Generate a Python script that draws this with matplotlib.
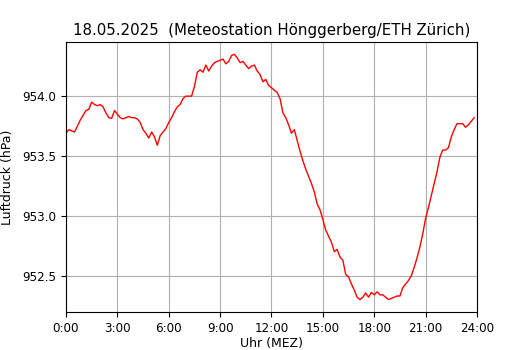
"""
    Luftdruck über einen Tag, Meteostation Hönggerberg.
"""

import numpy as np
import matplotlib
matplotlib.use("Agg")
import matplotlib.pyplot as plt


# Luftdruck (hPa), alle 10 Minuten ab 0:00.
pressure = [
    953.69, 953.72, 953.71, 953.70, 953.75, 953.80,
    953.84, 953.88, 953.89, 953.95, 953.93, 953.92,
    953.93, 953.91, 953.86, 953.82, 953.815, 953.88,
    953.85, 953.82, 953.81, 953.82, 953.83, 953.82,
    953.82, 953.81, 953.78, 953.72, 953.69, 953.65,
    953.70, 953.66, 953.59, 953.67, 953.70, 953.73,
    953.78, 953.82, 953.87, 953.91, 953.93, 953.98,
    954.00, 954.00, 954.00, 954.08, 954.20, 954.22,
    954.20, 954.26, 954.21, 954.25, 954.28, 954.29,
    954.30, 954.31, 954.27, 954.29, 954.34, 954.35,
    954.32, 954.28, 954.29, 954.26, 954.23, 954.25,
    954.26, 954.21, 954.18, 954.12, 954.14, 954.09,
    954.07, 954.05, 954.03, 953.98, 953.86, 953.82,
    953.76, 953.69, 953.72, 953.63, 953.54, 953.46,
    953.39, 953.33, 953.27, 953.20, 953.10, 953.05,
    952.97, 952.88, 952.83, 952.78, 952.70, 952.72,
    952.655, 952.63, 952.51, 952.49, 952.43, 952.38,
    952.32, 952.30, 952.32, 952.355, 952.32, 952.36,
    952.34, 952.365, 952.34, 952.34, 952.32, 952.30,
    952.31, 952.32, 952.33, 952.33, 952.40, 952.43,
    952.46, 952.50, 952.57, 952.65, 952.74, 952.85,
    952.98, 953.07, 953.17, 953.27, 953.37, 953.49,
    953.55, 953.55, 953.57, 953.66, 953.72, 953.77,
    953.77, 953.77, 953.74, 953.76, 953.79, 953.82,
]
tick_hours = [0, 3, 6, 9, 12, 15, 18, 21, 24]
tick_labels = ["0:00", "3:00", "6:00", "9:00", "12:00",
               "15:00", "18:00", "21:00", "24:00"]
title = "18.05.2025  (Meteostation Hönggerberg/ETH Zürich)"

hours = np.arange(len(pressure)) / 6.0

fig = plt.figure(figsize=(5.3, 3.5), dpi=100)
ax = fig.add_axes([0.1245, 0.109, 0.7755, 0.771])
ax.plot(hours, pressure, color="red", linewidth=1)

ax.set_xlim(0, 24)
ax.set_xticks(tick_hours)
ax.set_xticklabels(tick_labels)
ax.set_yticks([952.5, 953.0, 953.5, 954.0])
ax.tick_params(labelsize=8.6)
ax.grid(True)
ax.set_xlabel("Uhr (MEZ)", fontsize=9, labelpad=2)
ax.set_ylabel("Luftdruck (hPa)", fontsize=9)
ax.yaxis.set_label_coords(-0.127, 0.5)
ax.set_title(title, fontsize=10.8, pad=5)

fig.savefig("out.png", dpi=100)
plt.close()
